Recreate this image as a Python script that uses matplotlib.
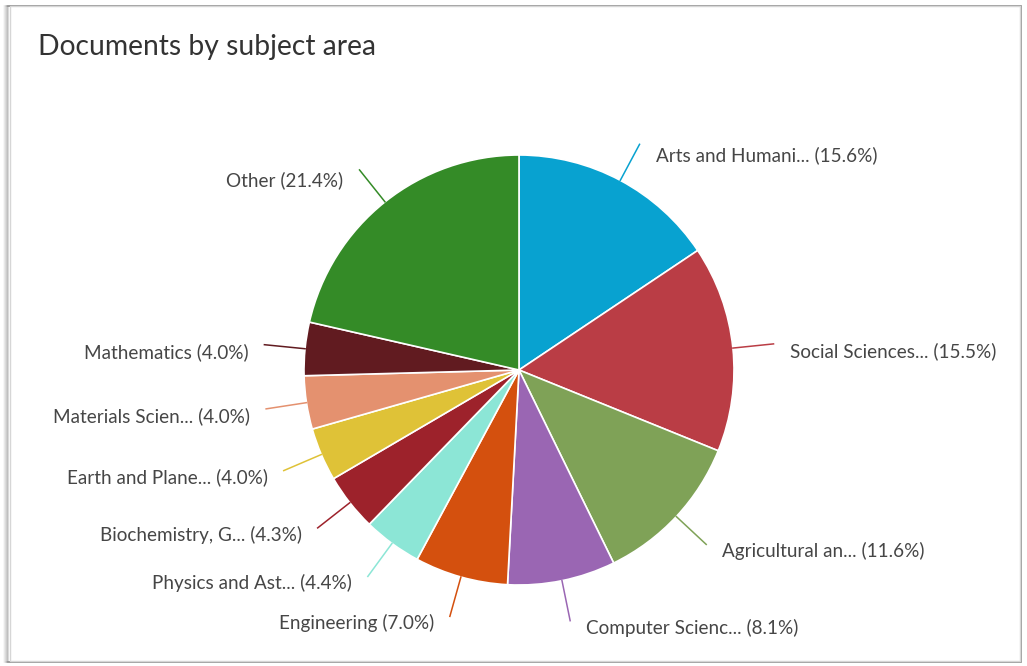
import numpy as np
import matplotlib
matplotlib.use('Agg')
import matplotlib.pyplot as plt
from matplotlib.patches import Rectangle

# Data
subjects = ['Arts and Humani...', 'Social Sciences...', 'Agricultural an...',
            'Computer Scienc...', 'Engineering', 'Physics and Ast...',
            'Biochemistry, G...', 'Earth and Plane...', 'Materials Scien...',
            'Mathematics', 'Other']
shares = [15.6, 15.5, 11.6, 8.1, 7.0, 4.4, 4.3, 4.0, 4.0, 4.0, 21.4]
colors = ['#08a2d0', '#ba3d45', '#7fa257', '#9a66b3', '#d4500e', '#8ce6d6',
          '#9d222b', '#dfc237', '#e4916f', '#611b20', '#348b27']

plt.rcParams['font.family'] = ['Lato', 'DejaVu Sans']

W, H = 1027, 666
fig = plt.figure(figsize=(W / 100, H / 100), dpi=100)
ax = fig.add_axes([0, 0, 1, 1])
ax.set_xlim(0, W)
ax.set_ylim(0, H)
ax.set_aspect('equal')
ax.axis('off')

# card frame with a soft shadow on the left
for i, a in enumerate([0.04, 0.07, 0.1, 0.14, 0.18]):
    ax.add_patch(Rectangle((4 + i, 4), W - 10 - i, H - 10, fill=False,
                           edgecolor='black', alpha=a, lw=1.2))
ax.add_patch(Rectangle((10, 5), W - 17, H - 11, facecolor='white',
                       edgecolor='#d6d6d6', lw=1))

cx, cy, R = 519, H - 370, 215
wedges, _ = ax.pie(shares, colors=colors, startangle=90, counterclock=False,
                   center=(cx, cy), radius=R, normalize=True,
                   wedgeprops=dict(edgecolor='white', linewidth=1.2))
ax.set_xlim(0, W)
ax.set_ylim(0, H)

for w, name, val, col in zip(wedges, subjects, shares, colors):
    mid = np.deg2rad((w.theta1 + w.theta2) / 2)
    x0, y0 = cx + R * np.cos(mid), cy + R * np.sin(mid)
    x1, y1 = cx + 1.19 * R * np.cos(mid), cy + 1.19 * R * np.sin(mid)
    ax.plot([x0, x1], [y0, y1], color=col, lw=1.1)
    right = np.cos(mid) >= 0
    dy = 7 + 4 * max(np.sin(mid), 0)
    ax.text(x1 + (16 if right else -16), y1 - dy, f'{name} ({val}%)',
            ha='left' if right else 'right', va='center',
            fontsize=13.6, color='#464646')

ax.text(38, H - 47, 'Documents by subject area', fontsize=20.3,
        color='#333333', va='center', ha='left')

fig.savefig('out.png', dpi=100)
